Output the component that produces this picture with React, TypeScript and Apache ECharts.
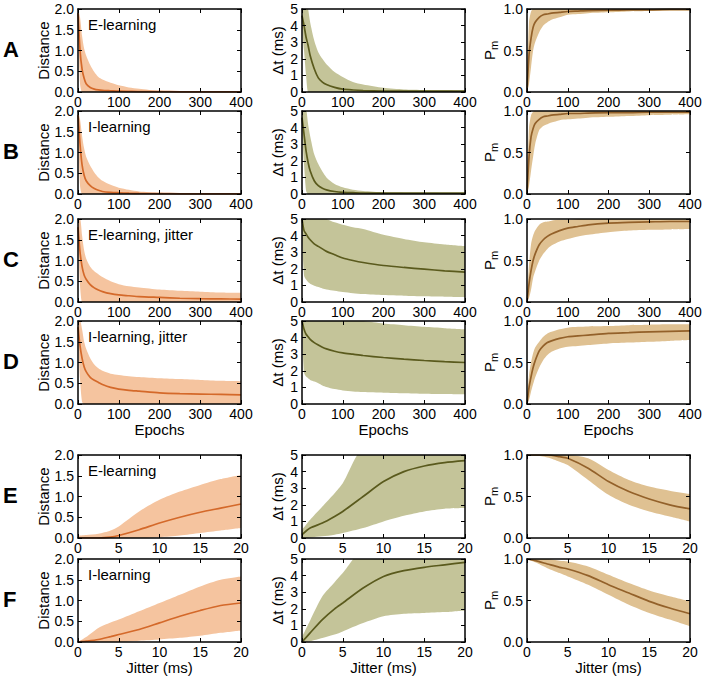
import React, { useEffect, useRef } from 'react';
import * as echarts from 'echarts';

// ---- x values ----
const EPOCHS = [0, 5, 10, 15, 20, 30, 40, 50, 60, 80, 100, 125, 150, 200, 250, 300, 350, 400];
const JITTER = [0, 1, 2.5, 4, 5, 7.5, 10, 12.5, 15, 17.5, 20];

// ---- tick values ----
const EPOCH_TICKS = [0, 100, 200, 300, 400];
const JITTER_TICKS = [0, 5, 10, 15, 20];
const DIST_TICKS = [0, 0.5, 1.0, 1.5, 2.0];
const DT_TICKS = [0, 1, 2, 3, 4, 5];
const PM_TICKS = [0, 0.5, 1.0];

// ---- Row A: E-learning ----
const A_dist_mean = [1.9, 1.0, 0.55, 0.33, 0.2, 0.11, 0.07, 0.05, 0.04, 0.03, 0.02, 0.015, 0.01, 0.01, 0.005, 0.005, 0.005, 0.005];
const A_dist_upper = [2.0, 1.8, 1.35, 1.05, 0.88, 0.65, 0.48, 0.36, 0.3, 0.22, 0.16, 0.11, 0.08, 0.03, 0.02, 0.01, 0.01, 0.01];
const A_dist_lower = [1.8, 0.2, 0, 0, 0, 0, 0, 0, 0, 0, 0, 0, 0, 0, 0, 0, 0, 0];
const A_dt_mean = [4.6, 4.0, 3.3, 2.8, 2.2, 1.4, 0.85, 0.6, 0.45, 0.28, 0.17, 0.12, 0.09, 0.06, 0.05, 0.05, 0.05, 0.05];
const A_dt_upper = [5.5, 5.5, 5.5, 5.0, 4.2, 3.1, 2.4, 2.0, 1.67, 1.2, 0.9, 0.6, 0.45, 0.25, 0.15, 0.12, 0.1, 0.08];
const A_dt_lower = [4.0, 2.5, 1.0, 0, 0, 0, 0, 0, 0, 0, 0, 0, 0, 0, 0, 0, 0, 0];
const A_pm_mean = [0, 0.45, 0.65, 0.78, 0.84, 0.9, 0.93, 0.94, 0.95, 0.96, 0.97, 0.975, 0.98, 0.985, 0.99, 0.99, 0.995, 0.995];
const A_pm_upper = [0.1, 0.85, 0.97, 1, 1, 1, 1, 1, 1, 1, 1, 1, 1, 1, 1, 1, 1, 1];
const A_pm_lower = [0, 0.1, 0.3, 0.5, 0.6, 0.72, 0.8, 0.84, 0.87, 0.9, 0.93, 0.94, 0.95, 0.96, 0.97, 0.975, 0.98, 0.98];

// ---- Row B: I-learning ----
const B_dist_mean = [1.9, 1.2, 0.7, 0.45, 0.32, 0.2, 0.13, 0.09, 0.06, 0.04, 0.03, 0.02, 0.015, 0.01, 0.005, 0.005, 0.005, 0.005];
const B_dist_upper = [2.0, 1.8, 1.4, 1.1, 0.9, 0.68, 0.52, 0.4, 0.32, 0.22, 0.15, 0.1, 0.06, 0.03, 0.02, 0.01, 0.01, 0.01];
const B_dist_lower = [1.8, 0.2, 0, 0, 0, 0, 0, 0, 0, 0, 0, 0, 0, 0, 0, 0, 0, 0];
const B_dt_mean = [4.6, 3.6, 2.6, 1.9, 1.4, 0.8, 0.5, 0.35, 0.25, 0.15, 0.1, 0.08, 0.06, 0.05, 0.05, 0.05, 0.05, 0.05];
const B_dt_upper = [5.5, 5.5, 5.2, 4.2, 3.5, 2.4, 1.8, 1.35, 1.0, 0.6, 0.4, 0.25, 0.18, 0.1, 0.08, 0.07, 0.06, 0.05];
const B_dt_lower = [4.0, 1.8, 0.2, 0, 0, 0, 0, 0, 0, 0, 0, 0, 0, 0, 0, 0, 0, 0];
const B_pm_mean = [0, 0.45, 0.69, 0.79, 0.85, 0.9, 0.93, 0.94, 0.95, 0.96, 0.97, 0.97, 0.975, 0.98, 0.98, 0.985, 0.985, 0.985];
const B_pm_upper = [0.1, 0.8, 0.95, 0.99, 1, 1, 1, 1, 1, 1, 1, 1, 1, 1, 1, 1, 1, 1];
const B_pm_lower = [0, 0.1, 0.28, 0.45, 0.6, 0.77, 0.82, 0.84, 0.86, 0.89, 0.9, 0.91, 0.92, 0.93, 0.94, 0.95, 0.955, 0.96];

// ---- Row C: E-learning, jitter ----
const C_dist_mean = [1.8, 1.2, 0.85, 0.65, 0.55, 0.42, 0.34, 0.29, 0.25, 0.2, 0.17, 0.15, 0.13, 0.11, 0.09, 0.08, 0.075, 0.07];
const C_dist_upper = [2.0, 2.0, 1.6, 1.25, 1.05, 0.85, 0.74, 0.67, 0.6, 0.5, 0.43, 0.38, 0.35, 0.3, 0.27, 0.25, 0.23, 0.22];
const C_dist_lower = [1.6, 0.4, 0, 0, 0, 0, 0, 0, 0, 0, 0, 0, 0, 0, 0, 0, 0, 0];
const C_dt_mean = [5.0, 4.3, 4.1, 3.9, 3.75, 3.5, 3.35, 3.2, 3.05, 2.85, 2.65, 2.5, 2.38, 2.2, 2.08, 1.98, 1.88, 1.8];
const C_dt_upper = [5.5, 5.5, 5.5, 5.5, 5.5, 5.4, 5.3, 5.2, 5.0, 4.8, 4.65, 4.5, 4.4, 4.05, 3.8, 3.6, 3.47, 3.37];
const C_dt_lower = [4.0, 1.6, 1.35, 1.2, 1.1, 0.98, 0.9, 0.82, 0.76, 0.68, 0.6, 0.53, 0.48, 0.42, 0.38, 0.34, 0.32, 0.3];
const C_pm_mean = [0, 0.22, 0.38, 0.5, 0.58, 0.69, 0.75, 0.79, 0.82, 0.86, 0.89, 0.91, 0.93, 0.95, 0.96, 0.965, 0.97, 0.97];
const C_pm_upper = [0.05, 0.45, 0.7, 0.8, 0.86, 0.93, 0.96, 0.97, 0.98, 0.99, 0.99, 1, 1, 1, 1, 1, 1, 1];
const C_pm_lower = [0, 0.05, 0.15, 0.29, 0.37, 0.5, 0.58, 0.64, 0.68, 0.73, 0.76, 0.79, 0.81, 0.84, 0.86, 0.87, 0.875, 0.88];

// ---- Row D: I-learning, jitter ----
const D_dist_mean = [1.85, 1.4, 1.1, 0.9, 0.78, 0.64, 0.57, 0.52, 0.47, 0.4, 0.36, 0.33, 0.31, 0.27, 0.25, 0.24, 0.23, 0.22];
const D_dist_upper = [2.0, 2.0, 1.8, 1.5, 1.33, 1.1, 0.95, 0.86, 0.8, 0.73, 0.7, 0.67, 0.65, 0.62, 0.6, 0.58, 0.56, 0.55];
const D_dist_lower = [1.7, 0.6, 0.05, 0, 0, 0, 0, 0, 0, 0, 0, 0, 0, 0, 0, 0, 0, 0];
const D_dt_mean = [5.0, 4.5, 4.2, 4.05, 3.9, 3.7, 3.55, 3.42, 3.32, 3.18, 3.08, 3.0, 2.92, 2.8, 2.7, 2.62, 2.55, 2.5];
const D_dt_upper = [5.2, 5.2, 5.2, 5.2, 5.2, 5.2, 5.2, 5.2, 5.15, 5.1, 5.05, 5.02, 5.0, 4.85, 4.75, 4.65, 4.57, 4.5];
const D_dt_lower = [4.5, 1.9, 1.65, 1.55, 1.45, 1.35, 1.25, 1.12, 1.03, 0.9, 0.82, 0.76, 0.72, 0.68, 0.65, 0.62, 0.6, 0.58];
const D_pm_mean = [0, 0.2, 0.33, 0.44, 0.52, 0.64, 0.7, 0.74, 0.76, 0.79, 0.81, 0.82, 0.83, 0.85, 0.86, 0.87, 0.875, 0.88];
const D_pm_upper = [0.05, 0.35, 0.5, 0.61, 0.68, 0.75, 0.81, 0.85, 0.87, 0.9, 0.92, 0.93, 0.935, 0.94, 0.95, 0.955, 0.96, 0.96];
const D_pm_lower = [0, 0.05, 0.15, 0.24, 0.32, 0.44, 0.53, 0.59, 0.63, 0.67, 0.69, 0.7, 0.71, 0.73, 0.74, 0.75, 0.76, 0.77];

// ---- Row E: E-learning vs jitter ----
const E_dist_mean = [0, 0, 0, 0.02, 0.06, 0.2, 0.36, 0.5, 0.62, 0.72, 0.82];
const E_dist_upper = [0.05, 0.07, 0.1, 0.18, 0.28, 0.64, 0.92, 1.12, 1.28, 1.42, 1.52];
const E_dist_lower = [0, 0, 0, 0, 0, 0, 0.02, 0.06, 0.12, 0.18, 0.24];
const E_dt_mean = [0.2, 0.6, 0.9, 1.3, 1.6, 2.5, 3.4, 4.0, 4.34, 4.54, 4.66];
const E_dt_upper = [0.5, 1.1, 1.9, 2.7, 3.3, 5.4, 5.5, 5.5, 5.5, 5.5, 5.5];
const E_dt_lower = [0, 0.03, 0.1, 0.2, 0.3, 0.6, 1.0, 1.34, 1.6, 1.76, 1.8];
const E_pm_mean = [1, 1, 1, 0.98, 0.96, 0.84, 0.68, 0.56, 0.47, 0.4, 0.35];
const E_pm_upper = [1, 1, 1, 1, 1, 0.96, 0.82, 0.7, 0.62, 0.57, 0.53];
const E_pm_lower = [0.99, 0.99, 0.97, 0.92, 0.88, 0.7, 0.52, 0.4, 0.32, 0.26, 0.2];

// ---- Row F: I-learning vs jitter ----
const F_dist_mean = [0, 0.02, 0.06, 0.13, 0.18, 0.3, 0.46, 0.62, 0.76, 0.88, 0.94];
const F_dist_upper = [0, 0.12, 0.34, 0.47, 0.54, 0.74, 0.94, 1.14, 1.34, 1.5, 1.58];
const F_dist_lower = [0, 0, 0, 0, 0, 0.03, 0.06, 0.1, 0.15, 0.22, 0.28];
const F_dt_mean = [0, 0.55, 1.35, 2.0, 2.35, 3.25, 3.95, 4.3, 4.5, 4.65, 4.8];
const F_dt_upper = [0.3, 1.3, 2.75, 3.6, 4.15, 5.5, 5.5, 5.5, 5.5, 5.5, 5.5];
const F_dt_lower = [0, 0.05, 0.24, 0.45, 0.64, 1.14, 1.55, 1.7, 1.75, 1.8, 1.9];
const F_pm_mean = [1, 0.98, 0.94, 0.9, 0.88, 0.8, 0.69, 0.59, 0.49, 0.41, 0.34];
const F_pm_upper = [1, 1, 1, 0.98, 0.97, 0.91, 0.81, 0.71, 0.62, 0.55, 0.49];
const F_pm_lower = [1, 0.96, 0.89, 0.83, 0.79, 0.69, 0.57, 0.45, 0.35, 0.27, 0.19];

// ---- labels ----
const ROW_LETTERS = ['A', 'B', 'C', 'D', 'E', 'F'];
const ROW_TITLES = ['E-learning', 'I-learning', 'E-learning, jitter', 'I-learning, jitter', 'E-learning', 'I-learning'];
const X_NAMES = ['', '', '', 'Epochs', '', 'Jitter (ms)'];

const FONT = "'Liberation Sans', Arial, Helvetica, sans-serif";

const ROW_TOPS = [9, 111, 219, 321, 455, 559];
const PLOT_W = 163;
const PLOT_H = 83;

const COLS = [
  { left: 78, name: 'Distance', ticks: DIST_TICKS, dec: 1, band: '#F5C49F', line: '#D4692A', nameGap: 27 },
  { left: 302, name: 'Δt (ms)', ticks: DT_TICKS, dec: 0, band: '#C4C499', line: '#5A5A1D', nameGap: 17 },
  { left: 527, name: '{p|P}{s|m}', ticks: PM_TICKS, dec: 1, band: '#DFC192', line: '#93612A', nameGap: 26 },
];

const ROW_DATA = [
  [[A_dist_mean, A_dist_upper, A_dist_lower], [A_dt_mean, A_dt_upper, A_dt_lower], [A_pm_mean, A_pm_upper, A_pm_lower]],
  [[B_dist_mean, B_dist_upper, B_dist_lower], [B_dt_mean, B_dt_upper, B_dt_lower], [B_pm_mean, B_pm_upper, B_pm_lower]],
  [[C_dist_mean, C_dist_upper, C_dist_lower], [C_dt_mean, C_dt_upper, C_dt_lower], [C_pm_mean, C_pm_upper, C_pm_lower]],
  [[D_dist_mean, D_dist_upper, D_dist_lower], [D_dt_mean, D_dt_upper, D_dt_lower], [D_pm_mean, D_pm_upper, D_pm_lower]],
  [[E_dist_mean, E_dist_upper, E_dist_lower], [E_dt_mean, E_dt_upper, E_dt_lower], [E_pm_mean, E_pm_upper, E_pm_lower]],
  [[F_dist_mean, F_dist_upper, F_dist_lower], [F_dt_mean, F_dt_upper, F_dt_lower], [F_pm_mean, F_pm_upper, F_pm_lower]],
];

const SMOOTH = 0.25;

export default function App() {
  const ref = useRef<HTMLDivElement>(null);

  useEffect(() => {
    if (!ref.current) return;
    const chart = echarts.init(ref.current, null, { renderer: 'svg' });

    const grids: any[] = [];
    const xAxes: any[] = [];
    const yAxes: any[] = [];
    const series: any[] = [];
    const titles: any[] = [];

    const lineBase = { show: true, onZero: false, lineStyle: { color: '#000', width: 1.5 } };
    const tickBase = { show: true, inside: true, length: 4, lineStyle: { color: '#000', width: 1 } };
    const txt = { color: '#000', fontFamily: FONT, fontWeight: 'normal' };

    ROW_TOPS.forEach((top, r) => {
      const xs = r < 4 ? EPOCHS : JITTER;
      const xt = r < 4 ? EPOCH_TICKS : JITTER_TICKS;
      const xmax = xt[xt.length - 1];
      const xint = xt[1] - xt[0];

      titles.push({
        text: ROW_LETTERS[r], left: 3, top: top + 29, padding: 0,
        textStyle: { fontSize: 22, fontWeight: 'bold', color: '#000', fontFamily: FONT },
      });
      titles.push({
        text: ROW_TITLES[r], left: 88, top: top + 8, padding: 0,
        textStyle: { ...txt, fontSize: 15 },
      });

      COLS.forEach((col, c) => {
        const gi = grids.length;
        grids.push({ left: col.left, top, width: PLOT_W, height: PLOT_H });
        const ymax = col.ticks[col.ticks.length - 1];
        const yint = col.ticks[1] - col.ticks[0];

        xAxes.push({
          gridIndex: gi, type: 'value', position: 'bottom', min: 0, max: xmax, interval: xint, z: 5,
          axisLine: lineBase, axisTick: tickBase, splitLine: { show: false },
          axisLabel: { ...txt, fontSize: 14, margin: 3 },
          name: X_NAMES[r], nameLocation: 'middle', nameGap: 11,
          nameTextStyle: { ...txt, fontSize: 15 },
        });
        xAxes.push({
          gridIndex: gi, type: 'value', position: 'top', min: 0, max: xmax, interval: xint, z: 5,
          axisLine: lineBase, axisTick: tickBase, splitLine: { show: false }, axisLabel: { show: false },
        });
        yAxes.push({
          gridIndex: gi, type: 'value', position: 'left', min: 0, max: ymax, interval: yint, z: 5,
          axisLine: lineBase, axisTick: tickBase, splitLine: { show: false },
          axisLabel: {
            ...txt, fontSize: 14, margin: 4,
            formatter: (v: number) => v.toFixed(col.dec),
          },
          name: col.name, nameLocation: 'middle', nameGap: col.nameGap,
          nameTextStyle: {
            ...txt, fontSize: 15,
            rich: {
              p: { ...txt, fontSize: 15, lineHeight: 20 },
              s: { ...txt, fontSize: 11, lineHeight: 11, verticalAlign: 'bottom' },
            },
          },
        });
        yAxes.push({
          gridIndex: gi, type: 'value', position: 'right', min: 0, max: ymax, interval: yint, z: 5,
          axisLine: lineBase, axisTick: tickBase, splitLine: { show: false }, axisLabel: { show: false },
        });

        const [mean, upper, lower] = ROW_DATA[r][c];
        const axIdx = 2 * gi;
        // band: upper edge filled down to zero in band colour
        series.push({
          type: 'line', xAxisIndex: axIdx, yAxisIndex: axIdx,
          data: xs.map((x, i) => [x, upper[i]]), symbol: 'none', smooth: SMOOTH,
          lineStyle: { width: 0, opacity: 0 }, areaStyle: { color: col.band, opacity: 1, origin: 'start' },
          silent: true, z: 1,
        });
        // lower edge filled down to zero in background colour, leaving the band
        series.push({
          type: 'line', xAxisIndex: axIdx, yAxisIndex: axIdx,
          data: xs.map((x, i) => [x, lower[i]]), symbol: 'none', smooth: SMOOTH,
          lineStyle: { width: 0, opacity: 0 }, areaStyle: { color: '#ffffff', opacity: 1, origin: 'start' },
          silent: true, z: 1,
        });
        series.push({
          type: 'line', xAxisIndex: axIdx, yAxisIndex: axIdx,
          data: xs.map((x, i) => [x, mean[i]]), symbol: 'none', smooth: SMOOTH,
          lineStyle: { color: col.line, width: 1.7 }, silent: true, z: 2,
        });
      });
    });

    chart.setOption({
      animation: false,
      backgroundColor: '#fff',
      textStyle: { fontFamily: FONT },
      title: titles,
      grid: grids,
      xAxis: xAxes,
      yAxis: yAxes,
      series,
    });

    return () => chart.dispose();
  }, []);

  return (
    <div
      ref={ref}
      style={{ position: 'absolute', left: 0, top: 0, width: 706, height: 682 }}
    />
  );
}
